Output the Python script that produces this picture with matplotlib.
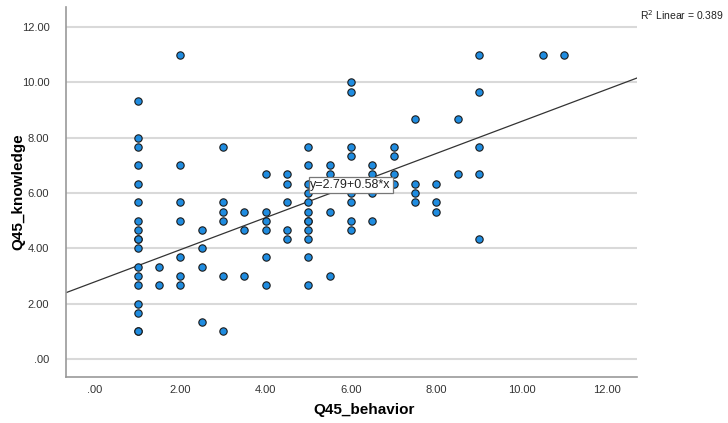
import numpy as np
import matplotlib
matplotlib.use("Agg")
import matplotlib.pyplot as plt
from matplotlib.ticker import FuncFormatter

plt.rcParams['font.family'] = ['Liberation Sans', 'DejaVu Sans']

# Datos (Q45_behavior vs Q45_knowledge)
behavior = [1] * 18 + [1.5] * 2 + [2] * 7 + [2.5] * 4 + [3] * 6 + [3.5] * 3 \
    + [4] * 6 + [4.5] * 5 + [5] * 12 + [5.5] * 5 + [6] * 9 + [6.5] * 5 \
    + [7] * 4 + [7.5] * 4 + [8] * 3 + [8.5] * 2 + [9] * 5 + [10.5, 11]
knowledge = [9.33, 8.0, 7.67, 7.0, 6.33, 5.67, 5.0, 4.67, 4.33, 4.33, 4.0, 3.33, 3.0, 2.67, 2.0, 1.67, 1.0, 1.0,
             3.33, 2.67,
             11.0, 7.0, 5.67, 5.0, 3.67, 3.0, 2.67,
             4.67, 4.0, 3.33, 1.33,
             7.67, 5.67, 5.33, 5.0, 3.0, 1.0,
             5.33, 4.67, 3.0,
             6.67, 5.33, 5.0, 4.67, 3.67, 2.67,
             6.67, 6.33, 5.67, 4.67, 4.33,
             7.67, 7.0, 6.33, 6.0, 5.67, 5.33, 5.0, 5.0, 4.67, 4.33, 3.67, 2.67,
             7.0, 6.67, 6.33, 5.33, 3.0,
             10.0, 9.67, 7.67, 7.33, 6.33, 6.0, 5.67, 5.0, 4.67,
             7.0, 6.67, 6.33, 6.0, 5.0,
             7.67, 7.33, 6.67, 6.33,
             8.67, 6.33, 6.0, 5.67,
             6.33, 5.67, 5.33,
             8.67, 6.67,
             11.0, 9.67, 7.67, 6.67, 4.33,
             11.0, 11.0]

intercept = 2.79
slope = 0.58
r2 = 0.389
xticks = [0, 2, 4, 6, 8, 10, 12]
yticks = [0, 2, 4, 6, 8, 10, 12]

fig = plt.figure(figsize=(7.28, 4.23), dpi=100)
ax = fig.add_axes([0.0907, 0.109, 0.784, 0.874])

xmin, xmax = -0.68, 12.7
ax.set_xlim(xmin, xmax)
ax.set_ylim(-0.65, 12.72)

# lineas de rejilla horizontales
ax.set_axisbelow(True)
ax.yaxis.grid(True, color="#d9d9d9", linewidth=1.5)
ax.xaxis.grid(False)

ax.scatter(behavior, knowledge, s=28, c="#1f8ce0", edgecolors="#1a1a1a",
           linewidths=0.8, zorder=3)

# recta de ajuste
xl = np.array([xmin, xmax])
ax.plot(xl, intercept + slope * xl, color="#333333", linewidth=0.9, zorder=2)

ax.text(5.05, 6.3, "y=%.2f+%.2f*x" % (intercept, slope), fontsize=9, va="center", ha="left",
        color="#222222", zorder=4,
        bbox=dict(boxstyle="square,pad=0.15", fc="white", ec="#777777", lw=0.9))

fmt = FuncFormatter(lambda v, p: ("%.2f" % v).lstrip("0") if v < 1 else "%.2f" % v)
ax.set_xticks(xticks)
ax.set_yticks(yticks)
ax.xaxis.set_major_formatter(fmt)
ax.yaxis.set_major_formatter(fmt)
ax.tick_params(axis="both", length=0, labelsize=8, labelcolor="#333333")
ax.tick_params(axis="x", pad=6)
ax.tick_params(axis="y", pad=12)

for s in ["top", "right"]:
    ax.spines[s].set_visible(False)
for s in ["left", "bottom"]:
    ax.spines[s].set_color("#999999")
    ax.spines[s].set_linewidth(1.2)

ax.set_xlabel("Q45_behavior", fontsize=11, fontweight="bold")
ax.set_ylabel("Q45_knowledge", fontsize=11, fontweight="bold")
ax.xaxis.set_label_coords(0.523, -0.07)
ax.yaxis.set_label_coords(-0.072, 0.50)

fig.text(0.994, 0.965, "R$^2$ Linear = %.3f" % r2, fontsize=7.5, ha="right", va="center",
         color="#222222")

fig.savefig("out.png", dpi=100)
